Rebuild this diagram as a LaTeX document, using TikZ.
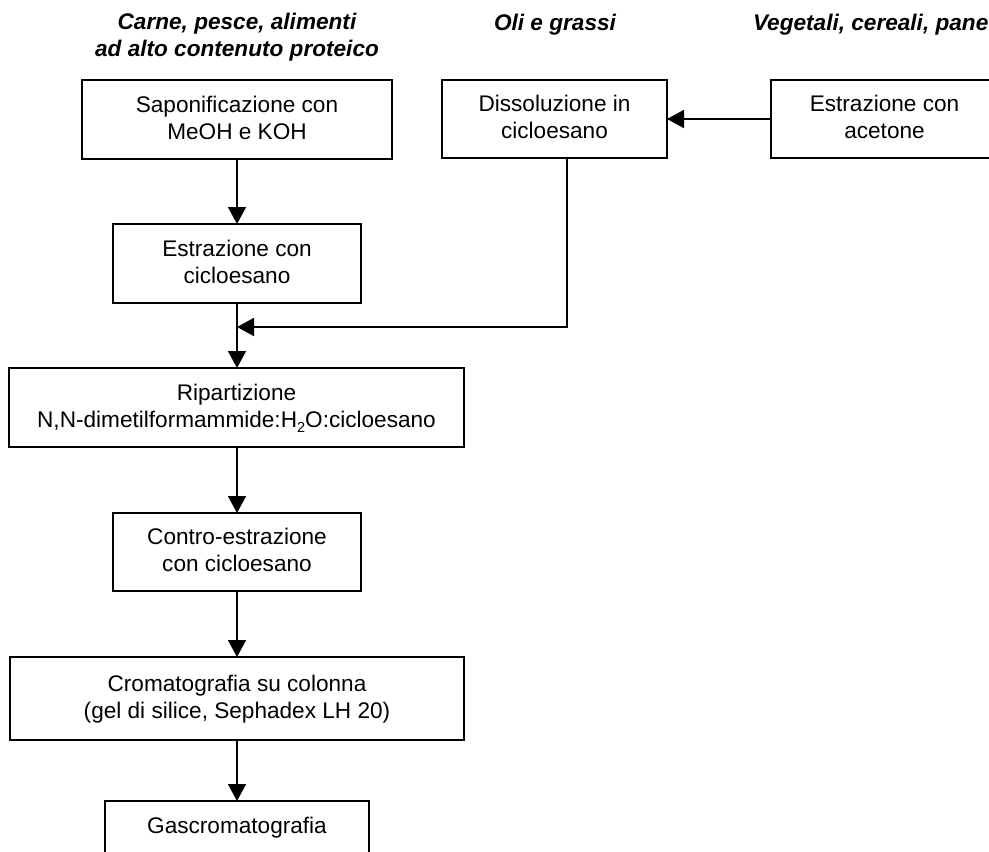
\documentclass[tikz,border=0pt]{standalone}
\usepackage{fontspec}
\setmainfont{Liberation Sans}
\usetikzlibrary{arrows.meta}
\newcommand{\myTop}{\rule{0pt}{17pt}}
\newcommand{\myBot}{\rule[-5pt]{0pt}{5pt}}
\newcommand{\mySub}[1]{\raisebox{-5pt}{\fontsize{14.5}{14.5}\selectfont #1}}
\begin{document}
\begin{tikzpicture}[x=1pt,y=-1pt,
  box/.style={draw, line width=1.7pt, inner sep=0pt, outer sep=0pt, align=center,
    font=\fontsize{22.6}{27}\selectfont},
  ttl/.style={inner sep=0pt, outer sep=0pt, align=center,
    font=\fontsize{22.6}{26.7}\selectfont\bfseries\itshape},
  arr/.style={line width=1.7pt, -{Triangle[length=17pt,width=18pt]}}]
\useasboundingbox (0,0) rectangle (989,852);
% titles
\node[ttl] (t1) at (237,37) {\myTop Carne, pesce, alimenti\\ad alto contenuto proteico\myBot};
\node[ttl, anchor=base] (t2) at (555,30) {Oli e grassi};
\node[ttl, anchor=base west] (t3) at (753,30) {Vegetali, cereali, pane};
% boxes
\node[box, minimum width=310pt, minimum height=79pt] (sap) at (237,119.5) {\myTop Saponificazione con\\MeOH e KOH\myBot};
\node[box, minimum width=225pt, minimum height=78pt] (dis) at (554.5,119) {\myTop Dissoluzione in\\cicloesano\myBot};
\node[box, minimum width=227pt, minimum height=78pt] (ace) at (884.5,119) {\myTop Estrazione con\\acetone\myBot};
\node[box, minimum width=248pt, minimum height=79pt] (est) at (237,263.5) {\myTop Estrazione con\\cicloesano\myBot};
\node[box, minimum width=455pt, minimum height=79pt] (rip) at (236.5,407.5) {\myTop Ripartizione\\N,N-dimetilformammide:H\mySub{2}O:cicloesano\myBot};
\node[box, minimum width=248pt, minimum height=78pt] (con) at (237,552) {\myTop Contro-estrazione\\con cicloesano\myBot};
\node[box, minimum width=454pt, minimum height=83pt] (cro) at (237,698.5) {\myTop Cromatografia su colonna\\(gel di silice, Sephadex LH 20)\myBot};
\node[box, minimum width=264pt, minimum height=52pt] (gas) at (237,827) {\myTop Gascromatografia\myBot};
% connectors
\coordinate (m) at (237,327);
\draw[arr] (sap.south) -- (est.north);
\draw[arr] (est.south) -- (est.south |- rip.north);
\draw[arr] ([xshift=12.5pt]dis.south) |- (m);
\draw[arr] (ace.west) -- (dis.east);
\draw[arr] (con.north |- rip.south) -- (con.north);
\draw[arr] (con.south) -- (cro.north);
\draw[arr] (cro.south) -- (gas.north);
\end{tikzpicture}
\end{document}
